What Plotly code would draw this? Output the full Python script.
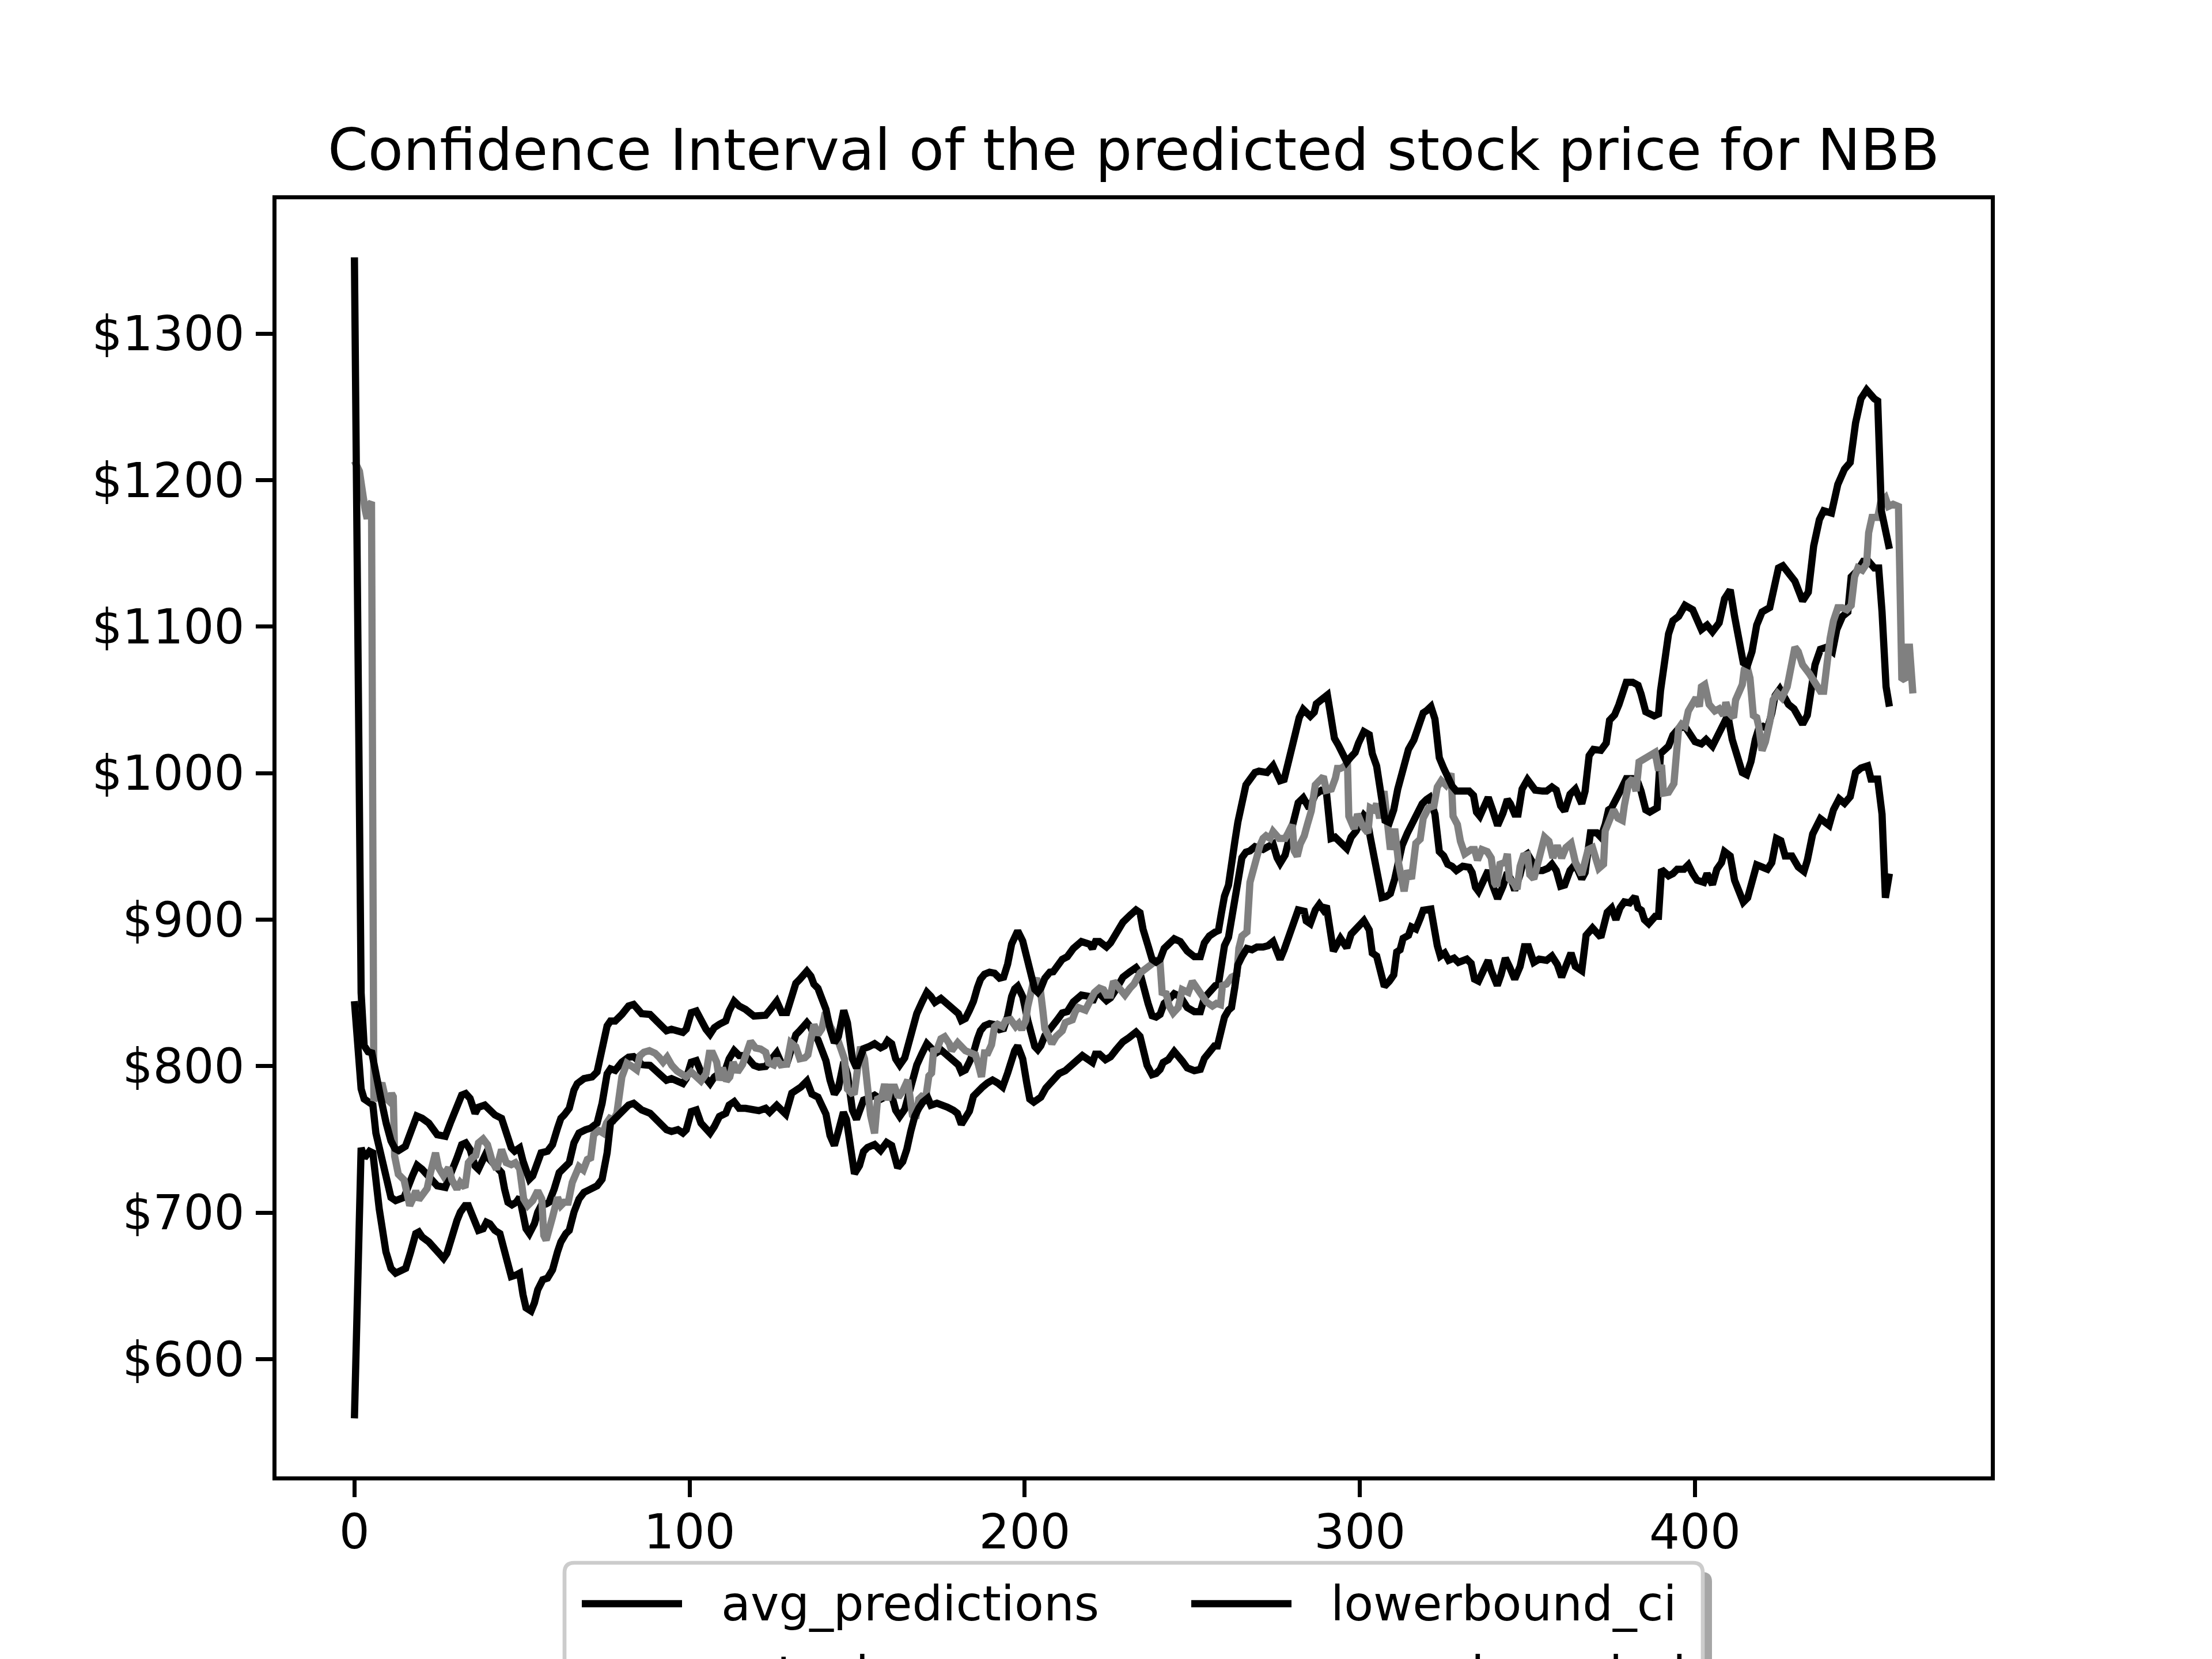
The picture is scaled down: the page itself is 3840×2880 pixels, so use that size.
import plotly.graph_objects as go

# ---------------- data ----------------
avg_predictions = [
    (0, 844.3), (0.6, 820.9), (1.2, 801.0), (2.0, 784.5), (2.9, 777.6), (4.3, 775.5), (5.5, 773.5), (6.4, 754.3),
    (8.4, 734.1), (10.9, 710.4), (12.3, 708.2), (14.8, 710.4), (17.3, 725.1), (18.7, 732.3), (20.2, 729.6),
    (22.2, 725.1), (24.7, 718.3), (27.1, 717.2), (28.6, 725.1), (30.6, 737.4), (32.0, 746.4), (33.2, 747.6),
    (34.5, 743.1), (36.0, 731.8), (37.0, 729.6), (39.1, 739.7), (40.4, 736.3), (41.9, 731.8), (43.9, 727.3),
    (44.8, 716.1), (45.8, 707.1), (47.0, 705.3), (48.3, 707.1), (49.3, 710.4), (50.3, 700.3), (51.2, 689.0),
    (52.2, 685.7), (53.7, 692.4), (54.7, 700.3), (55.7, 704.8), (57.2, 705.9), (58.1, 707.1), (59.6, 716.1),
    (61.1, 727.3), (62.6, 730.7), (64.1, 734.1), (65.5, 747.6), (67.0, 754.3), (69.0, 756.6), (70.5, 757.7),
    (72.4, 761.1), (73.9, 774.6), (75.4, 794.8), (76.4, 798.2), (77.8, 797.1), (79.8, 802.7), (81.8, 806.1),
    (83.3, 806.5), (84.7, 803.8), (85.7, 801.1), (88.2, 800.5), (89.7, 797.1), (91.1, 793.7), (93.1, 790.3),
    (94.6, 791.5), (96.5, 790.3), (98.0, 788.1), (99.0, 791.5), (100.5, 802.7), (102.0, 803.8), (103.4, 796.0),
    (104.9, 791.5), (106.1, 788.1), (107.4, 792.6), (108.9, 794.8), (110.8, 798.2), (111.8, 805.0), (113.3, 810.6),
    (114.8, 807.2), (116.7, 807.2), (119.2, 800.5), (120.7, 799.3), (122.7, 799.8), (123.9, 802.9), (126.0, 809.1),
    (127.5, 801.5), (129.0, 801.5), (130.5, 812.5), (131.7, 821.4), (132.9, 824.2), (135.0, 829.7), (136.2, 826.3),
    (137.1, 820.8), (138.3, 818.0), (139.5, 811.1), (140.7, 803.6), (141.9, 790.5), (143.2, 780.9), (144.4, 785.0),
    (145.1, 794.6), (146.0, 802.9), (147.1, 794.6), (148.0, 782.3), (148.6, 769.9), (149.8, 763.7), (151.0, 771.2),
    (151.9, 776.8), (153.4, 778.1), (155.2, 780.2), (157.0, 777.4), (158.2, 778.8), (159.1, 782.3), (160.3, 780.2),
    (161.5, 769.9), (162.7, 765.7), (164.2, 770.6), (165.4, 780.9), (166.6, 794.6), (167.8, 800.8), (169.3, 808.4),
    (170.8, 815.3), (172.0, 812.5), (173.2, 808.4), (175.0, 811.1), (176.9, 807.0), (178.7, 804.3), (180.2, 800.8),
    (181.1, 796.0), (182.3, 797.4), (183.5, 802.9), (184.7, 809.1), (185.9, 818.7), (186.8, 824.2), (188.0, 827.6),
    (189.5, 829.0), (191.0, 828.3), (192.5, 824.9), (193.7, 825.6), (194.9, 834.2), (196.1, 847.6), (197.0, 852.7),
    (197.9, 854.5), (199.4, 847.4), (200.9, 831.3), (202.1, 819.9), (203.0, 813.4), (203.9, 811.2), (204.8, 813.9),
    (206.0, 820.8), (207.5, 824.9), (208.5, 826.9), (209.7, 831.6), (211.2, 836.3), (212.7, 837.2), (214.5, 843.8),
    (216.9, 848.5), (219.3, 847.5), (220.2, 843.8), (221.1, 848.5), (222.3, 849.4), (224.4, 844.7), (225.6, 846.6),
    (227.2, 852.2), (229.3, 860.7), (231.4, 864.4), (233.2, 867.2), (234.4, 863.5), (235.3, 854.1), (236.8, 842.8),
    (238.0, 834.4), (239.2, 833.5), (240.4, 835.3), (241.6, 842.8), (243.1, 845.7), (244.6, 849.4), (246.4, 847.5),
    (248.5, 840.0), (250.6, 837.2), (252.4, 837.2), (253.6, 846.6), (255.1, 851.3), (256.9, 855.0), (257.8, 856.0),
    (258.7, 871.0), (259.6, 882.2), (260.8, 887.9), (261.7, 901.0), (262.7, 917.9), (263.6, 931.0), (264.8, 942.2),
    (266.0, 946.0), (267.2, 946.9), (268.7, 949.8), (271.1, 947.9), (272.6, 949.8), (274.1, 951.6), (275.3, 942.2),
    (276.2, 938.5), (277.7, 944.1), (279.2, 959.1), (280.4, 973.2), (281.6, 979.8), (283.1, 983.1), (284.9, 976.0),
    (286.7, 985.4), (288.5, 988.2), (290.0, 987.3), (291.4, 955.4), (292.6, 956.3), (294.5, 952.1), (296.1, 948.5),
    (297.4, 956.3), (298.9, 960.6), (301.2, 971.3), (302.1, 969.2), (303.1, 956.3), (304.0, 946.4), (305.3, 932.1),
    (306.6, 915.0), (307.8, 915.7), (309.1, 917.8), (310.4, 927.8), (311.3, 936.4), (312.6, 950.6), (314.2, 959.2),
    (315.4, 964.9), (317.0, 973.4), (318.6, 979.1), (319.9, 982.0), (320.8, 983.4), (322.4, 972.0), (323.7, 946.4),
    (325.0, 943.5), (326.2, 937.8), (327.5, 936.4), (328.8, 933.5), (330.7, 936.4), (332.6, 935.7), (333.5, 932.1),
    (334.5, 922.1), (335.4, 919.3), (337.0, 926.4), (338.3, 933.5), (339.6, 923.5), (341.1, 914.3), (342.7, 922.8),
    (344.0, 932.1), (345.3, 926.4), (346.2, 920.0), (347.8, 930.7), (349.1, 943.5), (350.0, 944.9), (351.3, 939.9),
    (352.3, 933.5), (354.5, 933.5), (356.1, 935.0), (357.3, 937.8), (358.6, 933.5), (359.9, 922.8), (361.1, 923.6),
    (362.7, 933.5), (364.3, 937.8), (366.2, 927.8), (367.2, 932.1), (368.8, 959.2), (370.7, 959.2), (371.9, 956.3),
    (373.2, 964.9), (374.2, 974.9), (375.1, 976.3), (376.4, 983.4), (378.0, 989.1), (379.5, 996.2), (381.4, 996.2),
    (383.0, 993.4), (383.9, 987.7), (385.3, 974.9), (386.5, 973.4), (388.7, 976.3), (389.7, 1013.3), (392.1, 1018.4),
    (393.4, 1025.9), (395.1, 1030.4), (397.0, 1031.9), (398.7, 1025.9), (400.0, 1021.4), (401.9, 1019.9),
    (403.3, 1022.9), (405.2, 1018.4), (406.9, 1025.9), (408.5, 1034.9), (409.8, 1039.4), (411.1, 1022.9),
    (412.5, 1010.9), (414.1, 1000.4), (415.4, 998.9), (416.7, 1007.9), (418.0, 1022.9), (419.0, 1030.4),
    (420.3, 1031.9), (421.6, 1030.4), (422.9, 1040.9), (423.9, 1052.9), (425.3, 1057.4), (426.6, 1052.9),
    (427.9, 1046.9), (429.5, 1043.9), (430.8, 1037.9), (432.1, 1033.4), (433.5, 1039.4), (434.8, 1061.9),
    (435.8, 1073.9), (437.4, 1084.5), (439.4, 1086.0), (441.0, 1083.0), (442.3, 1098.0), (444.0, 1107.0),
    (445.6, 1110.0), (446.6, 1134.0), (448.6, 1138.5), (450.2, 1144.5), (451.8, 1144.5), (453.5, 1140.0),
    (454.8, 1140.0), (455.8, 1110.0), (457.0, 1059.0), (458.0, 1045.4),
]

actual = [
    (0, 1213.0), (1.5, 1206.0), (3.2, 1179.7), (3.8, 1173.6), (4.5, 1183.2), (5.1, 1185.0), (5.8, 776.4),
    (8.2, 788.5), (9.2, 778.6), (10.2, 776.4), (11.1, 781.3), (11.6, 779.1), (12.0, 738.6), (13.1, 726.2),
    (14.8, 722.3), (15.9, 705.9), (16.5, 704.8), (17.5, 709.7), (18.3, 714.9), (19.2, 708.8), (20.7, 713.8),
    (21.7, 716.5), (22.7, 727.3), (24.2, 740.8), (25.1, 730.7), (26.6, 725.1), (28.1, 730.7), (29.1, 722.3),
    (30.6, 716.1), (31.6, 720.6), (33.0, 717.2), (34.0, 734.1), (35.2, 737.4), (36.2, 739.0), (37.0, 747.6),
    (38.4, 750.3), (39.7, 746.4), (41.1, 735.2), (42.4, 729.6), (43.9, 743.1), (45.3, 734.1), (46.8, 732.7),
    (48.0, 734.1), (49.3, 730.0), (50.5, 709.3), (51.7, 704.8), (53.2, 708.2), (54.7, 714.9), (55.9, 709.3),
    (56.5, 684.5), (57.2, 681.2), (58.1, 691.3), (59.1, 696.9), (60.6, 710.4), (61.6, 704.8), (62.6, 707.1),
    (63.8, 707.1), (65.0, 720.6), (66.0, 727.3), (67.0, 731.4), (68.3, 729.1), (69.5, 736.3), (70.5, 737.4),
    (71.4, 753.2), (72.9, 756.1), (74.2, 754.3), (75.2, 761.1), (76.2, 764.4), (77.3, 763.3), (78.3, 767.8),
    (79.8, 792.6), (81.3, 802.0), (82.8, 799.8), (84.2, 797.5), (85.2, 807.2), (86.4, 809.5), (88.0, 810.6),
    (89.7, 808.8), (90.9, 806.1), (92.1, 802.7), (93.3, 806.1), (94.7, 800.5), (96.3, 796.6), (97.8, 794.8),
    (99.0, 792.6), (100.5, 796.0), (102.0, 792.1), (103.4, 789.9), (104.9, 794.8), (105.9, 808.8), (106.9, 808.8),
    (108.1, 802.7), (108.9, 790.3), (109.8, 798.9), (111.0, 789.9), (112.0, 792.6), (113.0, 802.7), (114.3, 796.0),
    (115.8, 801.1), (117.0, 808.8), (118.2, 816.9), (119.7, 812.4), (121.2, 811.7), (122.7, 809.5), (123.6, 802.2),
    (125.1, 800.8), (126.0, 805.0), (127.2, 800.8), (129.0, 801.5), (130.2, 816.0), (131.7, 813.2), (132.9, 805.0),
    (134.4, 805.7), (135.3, 807.7), (137.1, 828.4), (138.3, 821.5), (139.5, 825.6), (140.5, 836.6), (142.0, 827.0),
    (144.1, 818.7), (145.3, 809.1), (146.2, 805.0), (147.1, 784.3), (148.3, 781.6), (149.2, 782.3), (150.1, 798.1),
    (151.0, 813.2), (152.2, 805.0), (153.1, 778.8), (154.0, 766.5), (155.2, 754.1), (156.1, 777.5), (157.3, 778.8),
    (158.2, 787.8), (159.1, 776.8), (160.0, 785.7), (161.2, 785.7), (162.3, 778.8), (163.6, 783.0), (165.1, 790.5),
    (166.5, 766.5), (167.5, 764.4), (168.4, 777.5), (169.3, 779.5), (170.5, 778.8), (171.4, 793.3), (172.2, 795.3),
    (172.8, 810.5), (173.8, 811.2), (175.0, 818.7), (176.1, 820.1), (177.5, 815.3), (178.2, 810.5), (180.0, 816.0),
    (182.3, 810.5), (184.1, 809.1), (185.3, 807.7), (186.2, 800.8), (187.1, 792.6), (188.0, 809.1), (189.0, 809.1),
    (190.1, 814.6), (191.0, 827.0), (191.9, 828.6), (193.4, 827.0), (194.3, 831.1), (195.8, 831.8), (197.3, 827.0),
    (198.2, 829.0), (199.1, 824.9), (200.3, 831.1), (200.9, 840.7), (201.5, 849.0), (202.7, 858.6), (203.8, 858.3),
    (204.6, 853.1), (205.4, 838.0), (206.0, 825.6), (207.2, 820.1), (208.1, 815.3), (209.4, 820.3), (211.2, 824.1),
    (212.1, 829.7), (214.2, 831.6), (215.1, 837.2), (216.0, 840.0), (218.1, 838.2), (219.3, 844.7), (220.8, 850.3),
    (222.3, 853.2), (223.5, 852.2), (224.4, 848.5), (225.6, 848.5), (226.5, 857.9), (227.2, 856.0), (228.4, 852.2),
    (229.9, 848.5), (231.4, 853.2), (232.6, 856.0), (234.4, 863.5), (236.2, 866.3), (237.7, 870.0), (239.2, 871.9),
    (240.4, 870.0), (241.0, 850.3), (242.2, 849.4), (243.1, 841.0), (244.3, 836.3), (245.8, 840.0), (247.0, 852.2),
    (248.8, 850.3), (250.0, 857.9), (251.5, 852.2), (253.0, 846.6), (254.2, 843.8), (256.0, 841.0), (257.2, 842.8),
    (258.4, 841.9), (259.0, 855.0), (260.2, 856.0), (261.7, 860.7), (263.3, 862.5), (263.9, 880.4), (264.8, 888.8),
    (266.3, 891.6), (267.2, 925.4), (268.4, 936.6), (269.3, 940.4), (270.2, 950.7), (271.1, 955.4), (272.0, 957.2),
    (273.2, 955.4), (274.1, 960.1), (275.9, 955.4), (277.7, 955.4), (278.6, 959.1), (279.8, 964.7), (280.4, 946.9),
    (281.3, 943.2), (282.2, 951.6), (283.4, 957.2), (284.3, 964.7), (285.5, 974.1), (286.7, 991.9), (287.9, 994.8),
    (289.1, 997.6), (290.0, 988.2), (291.5, 989.1), (292.7, 996.6), (293.3, 1003.2), (294.2, 1003.2), (295.1, 1004.1),
    (296.3, 1007.0), (296.7, 970.6), (298.3, 962.0), (299.3, 972.0), (300.9, 963.5), (302.4, 959.2), (303.1, 976.3),
    (304.3, 974.9), (305.0, 979.1), (305.9, 969.2), (307.2, 987.7), (308.1, 964.9), (309.1, 947.8), (310.4, 962.0),
    (311.6, 937.8), (313.2, 919.3), (314.2, 933.5), (315.4, 927.8), (316.7, 952.1), (318.0, 954.9), (318.9, 969.2),
    (320.5, 976.3), (322.1, 977.7), (323.1, 990.5), (324.3, 994.8), (325.6, 992.0), (327.2, 999.8), (327.8, 970.6),
    (329.1, 964.9), (330.0, 953.5), (331.3, 944.9), (333.2, 947.8), (334.2, 947.8), (335.1, 940.6), (336.4, 947.8),
    (338.0, 946.4), (339.2, 942.1), (340.2, 925.0), (340.8, 922.8), (341.8, 937.8), (343.4, 939.2), (344.0, 944.9),
    (344.6, 927.8), (345.9, 925.0), (346.9, 920.7), (347.8, 936.4), (348.8, 943.5), (350.0, 944.2), (350.7, 930.7),
    (351.9, 927.8), (353.5, 942.1), (355.1, 956.3), (356.4, 953.5), (357.6, 942.1), (358.9, 950.6), (360.2, 942.1),
    (361.5, 949.2), (363.0, 952.1), (364.3, 939.2), (366.2, 930.7), (368.1, 947.8), (369.4, 949.2), (371.3, 935.0),
    (372.7, 937.8), (373.2, 960.6), (374.5, 967.7), (375.7, 974.9), (377.0, 969.2), (378.3, 967.7), (378.9, 977.7),
    (380.2, 993.4), (381.4, 996.2), (382.4, 987.7), (383.3, 1007.6), (384.6, 1009.1), (385.9, 1011.2), (388.1, 1014.1),
    (389.1, 1001.9), (390.0, 1005.5), (390.6, 986.3), (392.1, 986.9), (393.7, 992.9), (395.1, 1030.4), (396.0, 1033.4),
    (397.0, 1031.9), (398.0, 1042.4), (399.3, 1046.9), (400.3, 1051.4), (401.3, 1045.4), (401.9, 1058.9),
    (402.9, 1060.4), (404.2, 1046.9), (405.9, 1042.4), (407.2, 1043.9), (408.5, 1039.4), (409.2, 1048.4),
    (410.2, 1040.9), (411.5, 1037.9), (412.1, 1049.9), (413.1, 1054.4), (414.1, 1060.4), (414.7, 1070.9),
    (415.4, 1073.9), (416.4, 1064.9), (417.4, 1039.4), (418.4, 1037.9), (419.0, 1031.9), (420.0, 1015.4),
    (421.0, 1021.4), (422.3, 1034.9), (423.3, 1049.9), (424.6, 1054.4), (425.9, 1051.4), (427.5, 1058.9),
    (428.9, 1075.4), (429.8, 1085.9), (430.8, 1082.9), (432.1, 1073.9), (434.1, 1067.9), (435.8, 1060.4),
    (437.4, 1055.9), (438.4, 1055.9), (439.4, 1079.9), (440.3, 1091.9), (441.3, 1103.9), (442.6, 1112.9),
    (443.9, 1112.9), (445.3, 1111.5), (446.6, 1114.5), (447.6, 1134.0), (448.6, 1140.0), (449.9, 1138.5),
    (451.2, 1143.0), (451.8, 1164.0), (452.8, 1174.5), (454.5, 1174.5), (455.4, 1185.0), (456.8, 1188.0),
    (457.7, 1182.0), (459.1, 1183.5), (460.7, 1182.0), (461.7, 1064.9), (462.7, 1063.4), (463.0, 1085.9),
    (464.0, 1085.9), (465.0, 1054.4),
]

lowerbound_ci = [
    (0, 559.6), (2.0, 744.2), (3.0, 737.4), (4.5, 741.9), (5.5, 740.8), (6.4, 720.6), (7.4, 702.5), (9.4, 673.3),
    (10.9, 662.0), (12.3, 658.7), (13.8, 659.8), (15.3, 662.0), (16.8, 673.3), (18.3, 685.7), (19.2, 686.8),
    (20.2, 683.4), (22.2, 680.0), (23.7, 675.5), (25.2, 671.0), (26.6, 668.8), (27.6, 672.2), (29.1, 684.5),
    (30.6, 694.7), (31.6, 700.3), (33.0, 704.8), (34.0, 704.8), (35.0, 699.2), (36.0, 693.5), (37.0, 687.9),
    (38.4, 689.0), (39.4, 693.5), (40.4, 692.4), (41.9, 687.9), (43.4, 685.7), (44.8, 673.3), (45.8, 662.0),
    (46.8, 656.4), (48.3, 657.5), (49.3, 658.7), (50.3, 644.0), (51.2, 635.0), (52.7, 632.8), (53.7, 638.4),
    (54.7, 647.4), (56.2, 654.2), (57.6, 655.3), (59.1, 660.9), (60.6, 673.3), (61.6, 680.0), (63.1, 685.7),
    (64.1, 687.9), (65.5, 700.3), (67.0, 709.3), (68.5, 713.8), (70.9, 716.1), (72.4, 718.3), (73.9, 722.8),
    (75.4, 740.8), (76.4, 761.1), (77.8, 764.4), (79.8, 769.0), (81.8, 773.4), (83.3, 774.6), (84.7, 772.3),
    (85.7, 770.1), (88.2, 767.8), (89.7, 764.4), (91.1, 760.0), (93.1, 756.6), (94.6, 755.4), (96.5, 756.6),
    (98.0, 754.3), (99.0, 756.6), (100.5, 769.0), (102.0, 770.1), (103.4, 761.1), (104.9, 756.6), (106.1, 754.3),
    (107.4, 758.8), (108.9, 765.6), (110.8, 767.8), (111.8, 773.4), (113.3, 775.7), (114.8, 771.2), (116.7, 771.2),
    (119.2, 770.1), (120.7, 769.6), (122.7, 771.2), (123.9, 768.5), (126.0, 773.3), (127.5, 769.2), (128.7, 767.2),
    (130.5, 781.6), (131.7, 783.0), (133.2, 785.7), (135.0, 789.8), (136.5, 780.9), (138.3, 778.8), (139.2, 773.3),
    (140.7, 767.2), (141.9, 752.7), (143.2, 745.8), (144.4, 755.5), (145.9, 768.5), (146.8, 763.7), (148.0, 744.5),
    (149.2, 726.6), (150.7, 732.1), (151.9, 741.7), (153.1, 744.5), (155.2, 746.5), (157.0, 742.4), (158.8, 747.9),
    (160.3, 745.8), (162.1, 730.7), (163.6, 734.8), (164.8, 743.1), (166.0, 755.5), (167.2, 765.8), (168.4, 771.3),
    (169.6, 775.4), (171.1, 778.2), (172.0, 773.3), (173.8, 774.7), (175.0, 774.0), (176.9, 772.0), (178.7, 769.9),
    (179.9, 767.8), (181.1, 760.3), (182.3, 764.4), (183.5, 769.2), (184.7, 779.5), (185.9, 783.0), (187.4, 785.7),
    (188.9, 788.5), (190.4, 790.5), (191.9, 788.5), (193.4, 785.7), (194.9, 795.3), (196.1, 806.3), (197.0, 810.5),
    (197.9, 813.9), (199.4, 805.0), (200.6, 788.5), (201.5, 777.5), (202.7, 775.4), (203.9, 777.5), (204.8, 778.8),
    (206.3, 785.0), (207.8, 788.5), (208.5, 790.3), (210.3, 795.0), (212.1, 796.9), (213.9, 800.6), (215.7, 805.3),
    (217.2, 807.2), (219.0, 804.4), (220.2, 802.5), (221.1, 808.2), (222.3, 808.2), (224.1, 804.4), (225.6, 806.3),
    (227.2, 811.0), (229.3, 816.6), (231.1, 819.4), (233.2, 823.2), (234.4, 820.3), (235.3, 810.0), (236.5, 800.6),
    (238.0, 794.1), (239.2, 795.0), (240.4, 797.8), (241.3, 802.5), (242.8, 804.4), (244.6, 810.0), (247.0, 803.5),
    (248.5, 798.8), (250.6, 796.9), (252.4, 797.8), (253.6, 805.3), (255.1, 810.0), (256.6, 813.8), (257.5, 813.8),
    (258.4, 824.1), (259.6, 833.5), (260.8, 838.2), (261.7, 840.0), (262.7, 854.1), (263.6, 869.1), (264.8, 874.7),
    (266.3, 880.3), (267.8, 879.4), (269.3, 881.3), (271.1, 881.3), (272.6, 882.2), (274.1, 885.0), (275.0, 878.5),
    (276.2, 872.9), (277.4, 879.4), (278.9, 888.8), (280.4, 898.2), (281.6, 906.6), (283.4, 905.7), (284.0, 899.1),
    (285.2, 897.2), (286.7, 906.6), (287.9, 910.4), (289.1, 906.6), (290.0, 909.4), (291.2, 890.7), (292.1, 878.5),
    (294.2, 887.2), (296.1, 880.8), (297.4, 890.1), (298.9, 893.6), (299.9, 896.5), (301.2, 899.3), (302.8, 892.9),
    (303.7, 877.2), (305.0, 875.1), (306.2, 864.4), (307.3, 854.4), (308.8, 858.0), (310.1, 862.3), (311.0, 877.9),
    (312.0, 879.4), (312.9, 887.2), (314.5, 889.3), (315.4, 895.0), (316.7, 893.6), (318.0, 900.8), (318.9, 906.4),
    (321.2, 907.2), (322.1, 892.2), (323.1, 882.2), (324.0, 875.1), (325.3, 877.2), (326.5, 872.2), (328.1, 873.7),
    (329.4, 870.8), (331.9, 873.0), (333.2, 870.1), (334.2, 859.4), (335.4, 858.0), (337.0, 866.5), (338.3, 872.2),
    (339.2, 865.1), (341.0, 855.1), (342.1, 862.3), (343.4, 873.7), (344.6, 868.0), (346.2, 859.4), (347.8, 868.0),
    (349.1, 881.5), (350.3, 881.5), (351.9, 870.8), (353.5, 873.0), (355.7, 872.2), (357.3, 875.1), (358.9, 869.4),
    (360.2, 860.8), (361.5, 868.0), (363.0, 877.2), (364.3, 868.0), (366.2, 865.1), (367.5, 889.3), (369.4, 894.3),
    (371.9, 887.9), (373.8, 905.0), (375.1, 907.9), (376.4, 900.0), (377.6, 907.9), (378.9, 912.1), (380.5, 911.4),
    (382.1, 915.7), (383.0, 907.9), (384.0, 906.4), (384.9, 900.0), (386.2, 897.2), (388.1, 902.2), (389.1, 902.2),
    (390.0, 934.2), (391.3, 930.7), (392.1, 929.9), (393.4, 931.4), (394.7, 934.4), (396.7, 934.4), (398.0, 937.4),
    (399.3, 931.4), (400.6, 926.9), (402.6, 925.4), (403.6, 931.4), (405.2, 923.9), (406.5, 934.4), (407.9, 938.9),
    (408.8, 946.4), (410.5, 943.4), (411.8, 926.9), (413.1, 919.4), (414.4, 911.9), (415.7, 914.9), (417.0, 926.9),
    (418.4, 937.4), (420.0, 935.9), (421.6, 934.4), (422.9, 938.9), (424.3, 955.4), (425.6, 953.9), (426.9, 943.4),
    (428.9, 943.4), (430.8, 935.9), (432.5, 932.9), (433.5, 940.4), (435.1, 958.4), (437.4, 968.9), (440.0, 964.4),
    (441.3, 974.9), (443.0, 982.4), (444.6, 979.4), (446.3, 983.9), (447.9, 1000.4), (449.5, 1003.4),
    (451.5, 1004.9), (452.5, 995.9), (454.5, 995.9), (455.8, 971.9), (456.8, 914.9), (458.0, 931.4),
]

upperbound_ci = [
    (0, 1352.0), (1, 1060.0), (2, 850.0), (2.9, 814.0), (4.1, 809.8), (5.2, 809.0), (6.4, 792.0), (7.8, 779.0),
    (9.5, 760.8), (10.9, 749.0), (12.1, 743.7), (13.2, 742.4), (15.2, 745.2), (16.9, 756.9), (18.6, 766.0),
    (20.2, 764.4), (22.2, 761.1), (24.7, 753.2), (27.1, 752.1), (28.6, 761.1), (30.6, 771.2), (32.0, 780.2),
    (33.2, 781.3), (34.5, 778.0), (36.0, 767.8), (37.0, 771.9), (38.9, 773.4), (40.4, 770.1), (41.9, 766.7),
    (43.9, 764.4), (44.8, 758.8), (45.8, 749.8), (46.8, 744.2), (47.8, 741.9), (49.3, 744.2), (50.3, 735.2),
    (51.2, 727.3), (52.2, 722.8), (53.2, 725.1), (54.7, 734.1), (55.7, 740.8), (57.6, 741.9), (59.1, 746.4),
    (60.6, 757.7), (61.6, 764.4), (62.6, 766.7), (64.1, 771.2), (65.5, 783.6), (66.5, 788.1), (68.5, 791.5),
    (70.9, 792.6), (72.4, 796.0), (73.9, 809.5), (75.4, 827.5), (76.4, 830.8), (77.8, 830.8), (79.8, 835.3),
    (81.8, 841.0), (83.3, 842.1), (84.7, 838.7), (85.7, 835.8), (88.2, 835.3), (89.7, 832.0), (91.1, 828.6),
    (93.1, 824.1), (94.6, 825.2), (96.5, 824.5), (98.0, 823.0), (99.0, 825.2), (100.5, 836.5), (102.0, 837.6),
    (103.4, 830.8), (104.9, 825.2), (106.1, 821.8), (107.4, 826.3), (108.9, 828.6), (110.8, 830.8), (111.8, 837.6),
    (113.3, 844.3), (114.8, 841.0), (116.7, 838.7), (119.2, 834.2), (120.7, 834.9), (122.7, 834.7), (123.9, 838.0),
    (126.0, 844.2), (127.5, 836.6), (129.0, 836.6), (130.5, 847.6), (131.7, 856.5), (132.9, 859.3), (135.0, 864.8),
    (136.2, 861.4), (137.1, 855.9), (138.3, 853.1), (139.5, 846.2), (140.7, 838.7), (141.9, 825.6), (143.2, 816.0),
    (144.4, 820.1), (145.1, 829.7), (146.0, 838.0), (147.1, 829.7), (148.0, 817.4), (148.6, 805.0), (149.8, 798.8),
    (151.0, 806.3), (151.9, 811.9), (153.4, 813.2), (155.2, 815.3), (157.0, 812.5), (158.2, 813.9), (159.1, 817.4),
    (160.3, 815.3), (161.5, 805.0), (162.7, 800.8), (164.2, 805.7), (165.4, 816.0), (166.6, 829.7), (167.8, 835.9),
    (169.3, 843.5), (170.8, 850.4), (172.0, 847.6), (173.2, 843.5), (175.0, 846.2), (176.9, 842.1), (178.7, 839.4),
    (180.2, 835.9), (181.1, 831.1), (182.3, 832.5), (183.5, 838.0), (184.7, 844.2), (185.9, 853.8), (186.8, 859.3),
    (188.0, 862.7), (189.5, 864.1), (191.0, 863.4), (192.5, 860.0), (193.7, 860.7), (194.9, 869.6), (196.1, 883.4),
    (197.0, 888.9), (197.9, 892.3), (199.4, 885.4), (200.9, 869.6), (202.1, 858.6), (203.0, 852.4), (203.9, 850.4),
    (204.8, 853.1), (206.0, 860.0), (207.5, 864.1), (208.5, 864.4), (209.7, 868.2), (211.2, 872.9), (212.7, 874.7),
    (214.5, 880.3), (216.9, 885.0), (219.3, 883.2), (220.2, 880.3), (221.1, 885.0), (222.3, 885.0), (224.4, 881.3),
    (225.6, 884.1), (227.2, 889.7), (229.3, 898.2), (231.4, 902.9), (233.2, 906.6), (234.4, 904.7), (235.3, 893.5),
    (236.8, 882.2), (238.0, 872.9), (239.2, 871.0), (240.4, 872.9), (241.6, 880.3), (243.1, 883.2), (244.6, 886.9),
    (246.4, 885.0), (248.5, 878.5), (250.6, 874.7), (252.4, 874.7), (253.6, 884.1), (255.1, 888.8), (256.9, 891.6),
    (257.8, 892.5), (258.7, 904.7), (259.6, 916.0), (260.8, 923.5), (261.7, 934.7), (262.7, 953.5), (263.6, 966.6),
    (264.8, 981.6), (266.0, 991.9), (267.2, 995.7), (268.7, 1000.4), (269.9, 1001.3), (272.3, 1000.4),
    (274.1, 1005.1), (275.3, 997.6), (276.2, 994.8), (277.4, 995.7), (278.3, 1003.2), (279.5, 1014.4),
    (280.7, 1026.6), (281.9, 1037.9), (283.1, 1043.5), (285.2, 1038.8), (286.4, 1041.6), (287.0, 1047.3),
    (288.5, 1050.1), (290.3, 1053.3), (291.2, 1040.7), (292.4, 1023.8), (293.6, 1019.0), (294.5, 1014.8),
    (296.1, 1007.6), (297.4, 1011.2), (298.6, 1014.1), (299.6, 1020.5), (301.2, 1028.3), (302.8, 1026.2),
    (303.7, 1013.3), (305.0, 1004.8), (306.2, 987.7), (307.5, 967.7), (308.8, 966.3), (310.1, 974.9), (311.3, 989.1),
    (312.9, 1003.4), (314.5, 1016.2), (316.1, 1022.6), (317.7, 1034.7), (318.9, 1041.1), (319.9, 1042.6),
    (321.2, 1045.4), (322.4, 1036.9), (323.7, 1010.5), (325.0, 1003.4), (326.2, 996.2), (327.5, 991.2),
    (328.8, 987.7), (330.7, 987.7), (332.6, 987.7), (333.9, 984.8), (334.8, 973.4), (335.8, 970.6), (337.0, 976.3),
    (338.3, 983.4), (339.6, 974.9), (341.1, 964.2), (342.7, 972.7), (344.0, 982.0), (344.9, 979.1), (346.2, 972.0),
    (347.2, 972.0), (348.4, 989.1), (350.0, 995.5), (351.3, 992.0), (352.3, 988.4), (354.5, 987.7), (355.7, 987.7),
    (357.3, 990.5), (358.6, 988.4), (359.9, 977.7), (361.1, 974.1), (362.7, 985.5), (364.3, 989.1), (366.2, 979.1),
    (367.2, 987.7), (368.4, 1011.9), (369.7, 1016.2), (371.9, 1015.5), (373.5, 1020.5), (374.5, 1036.1),
    (376.0, 1039.7), (377.3, 1046.8), (378.3, 1054.7), (379.5, 1062.0), (381.4, 1062.0), (383.0, 1060.0),
    (383.9, 1054.0), (385.3, 1041.8), (387.8, 1039.0), (389.1, 1040.4), (389.7, 1056.1), (392.1, 1095.0),
    (393.4, 1104.0), (395.1, 1107.0), (397.0, 1114.5), (399.3, 1111.5), (401.9, 1098.0), (403.6, 1101.0),
    (405.2, 1096.5), (407.2, 1102.5), (408.8, 1119.0), (410.5, 1125.0), (411.8, 1107.0), (413.1, 1089.0),
    (414.4, 1075.4), (415.7, 1073.9), (417.0, 1082.9), (418.4, 1101.0), (420.0, 1110.0), (422.3, 1113.0),
    (423.6, 1128.0), (424.9, 1140.0), (426.2, 1141.5), (427.9, 1137.0), (429.8, 1131.0), (432.1, 1117.5),
    (433.8, 1123.5), (435.4, 1155.0), (437.1, 1173.0), (438.4, 1179.0), (440.7, 1177.5), (442.6, 1197.0),
    (444.6, 1207.5), (446.3, 1212.0), (447.9, 1239.0), (449.5, 1255.5), (451.2, 1261.5), (453.5, 1255.5),
    (454.5, 1254.0), (455.6, 1179.0), (457.0, 1163.0), (458.0, 1153.0),
]

x_tick_values = [0, 100, 200, 300, 400]
x_tick_labels = ["0", "100", "200", "300", "400"]
y_tick_values = [600, 700, 800, 900, 1000, 1100, 1200, 1300]
y_tick_labels = ["$600", "$700", "$800", "$900", "$1000", "$1100", "$1200", "$1300"]

title_text = "Confidence Interval of the predicted stock price for NBB"

# plotting order and styles: (label, points, colour)
series = [
    ("avg_predictions", avg_predictions, "#000000"),
    ("actual", actual, "#808080"),
    ("lowerbound_ci", lowerbound_ci, "#000000"),
    ("upperbound_ci", upperbound_ci, "#000000"),
]

# ---------------- layout constants (pixels on a 3840x2880 page) ----------------
W, H = 3840, 2880
OFF = 8            # the page body adds an 8 px offset; compensate for it
ML, MR, MT, MB = 480 - OFF, 384 + OFF, 346 - OFF, 317 + OFF
PW, PH = W - ML - MR, H - MT - MB
FONT = "DejaVu Sans"
LW = 12.5          # 1.5 pt at 600 dpi
SPINE = 6.7        # 0.8 pt at 600 dpi
TICK_FS = 83.3     # 10 pt
TITLE_FS = 100     # 12 pt


def fx(px):
    return (px - OFF - ML) / PW


def fy(py):
    return (H - MB - (py - OFF)) / PH


fig = go.Figure()
for name, pts, col in series:
    fig.add_trace(go.Scatter(
        x=[p[0] for p in pts], y=[p[1] for p in pts], mode="lines", name=name,
        line=dict(color=col, width=LW), showlegend=False,
    ))

all_x = [p[0] for _, pts, _ in series for p in pts]
all_y = [p[1] for _, pts, _ in series for p in pts]
xspan = max(all_x) - min(all_x)
yspan = max(all_y) - min(all_y)
xr = [min(all_x) - 0.05 * xspan, max(all_x) + 0.05 * xspan]
yr = [min(all_y) - 0.05 * yspan, max(all_y) + 0.05 * yspan]

axis_common = dict(
    showline=True, mirror=True, linecolor="black", linewidth=SPINE,
    ticks="outside", ticklen=29, tickwidth=SPINE, tickcolor="black",
    showgrid=False, zeroline=False,
    tickfont=dict(family=FONT, size=TICK_FS, color="black"),
)

# ---------------- hand-built legend (matplotlib style, cut at the page bottom) ----------------
shapes = []
annotations = []


def rounded_rect(x0, y0, x1, y1, r):
    rx, ry = r / PW, r / PH
    X0, X1 = fx(x0), fx(x1)
    Y0, Y1 = fy(y0), fy(y1)   # Y0 is the top edge
    return (f"M{X0 + rx},{Y0} L{X1 - rx},{Y0} Q{X1},{Y0} {X1},{Y0 - ry} "
            f"L{X1},{Y1 + ry} Q{X1},{Y1} {X1 - rx},{Y1} L{X0 + rx},{Y1} "
            f"Q{X0},{Y1} {X0},{Y1 + ry} L{X0},{Y0 - ry} Q{X0},{Y0} {X0 + rx},{Y0} Z")


box_l, box_r, box_t, box_b = 980, 2956, 2713, 3040
shadow = 16
shapes.append(dict(type="path", xref="paper", yref="paper", layer="above",
                   path=rounded_rect(box_l + shadow, box_t + shadow, box_r + shadow, box_b + shadow, 17),
                   fillcolor="#a6a6a6", line=dict(width=0)))
shapes.append(dict(type="path", xref="paper", yref="paper", layer="above",
                   path=rounded_rect(box_l, box_t, box_r, box_b, 17),
                   fillcolor="white", line=dict(color="#cccccc", width=SPINE)))

col_handle = [(1010, 1184), (2068, 2242)]
col_text = [1251, 2309]
row_y = [2784, 2906]
# matplotlib ncol=2 fills column by column
for i, (name, _, col) in enumerate(series):
    c, r = i // 2, i % 2
    shapes.append(dict(type="line", xref="paper", yref="paper", layer="above",
                       x0=fx(col_handle[c][0]), x1=fx(col_handle[c][1]),
                       y0=fy(row_y[r]), y1=fy(row_y[r]),
                       line=dict(color=col, width=LW)))
    annotations.append(dict(text=name, xref="paper", yref="paper", x=fx(col_text[c]), y=fy(row_y[r]),
                            xanchor="left", yanchor="middle", showarrow=False, borderpad=0,
                            font=dict(family=FONT, size=TICK_FS, color="black")))

fig.update_layout(
    width=W, height=H,
    margin=dict(l=ML, r=MR, t=MT, b=MB, autoexpand=False),
    paper_bgcolor="white", plot_bgcolor="white",
    title=dict(text=title_text, x=0.5, xref="paper", xanchor="center",
               y=1 - (260 - OFF) / H, yref="container", yanchor="middle",
               font=dict(family=FONT, size=TITLE_FS, color="black")),
    xaxis=dict(range=xr, tickvals=x_tick_values, ticktext=x_tick_labels, ticklabelstandoff=-11, **axis_common),
    yaxis=dict(range=yr, tickvals=y_tick_values, ticktext=y_tick_labels, ticklabelstandoff=3, **axis_common),
    shapes=shapes, annotations=annotations, showlegend=False,
    font=dict(family=FONT),
)

fig.write_html("out.html")
